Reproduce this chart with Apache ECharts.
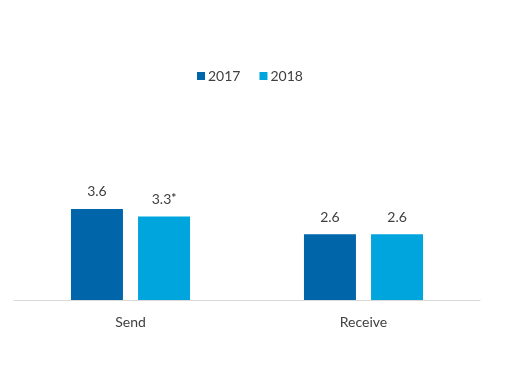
<!DOCTYPE html>
<html><head><meta charset="utf-8">
<script src="https://cdn.jsdelivr.net/npm/echarts@6/dist/echarts.min.js"></script>
<style>html,body{margin:0;padding:0;background:#fff}#c{width:509px;height:365px}</style>
</head><body><div id="c"></div>
<script>
const categories = ['Send', 'Receive'];
const seriesNames = ['2017', '2018'];
const values2017 = [3.6, 2.6];
const values2018 = [3.3, 2.6];
const labels2018 = ['{n|3.3}{s|*}', '{n|2.6}'];
const colors = ['#0065a9', '#00a5dd'];

const chart = echarts.init(document.getElementById('c'));
const font = 'Lato';
const txt = '#404040';
chart.setOption({
  animation: false,
  legend: {
    data: seriesNames, top: 64, left: 192,
    itemWidth: 8, itemHeight: 8, itemGap: 19,
    icon: 'rect',
    textStyle: { fontFamily: font, fontSize: 14, color: txt, padding: [0, 0, 0, -2] }
  },
  grid: { left: 14, right: 29, top: 198.8, bottom: 65 },
  xAxis: {
    type: 'category', data: categories,
    axisLine: { lineStyle: { color: '#d9d9d9', width: 1 } },
    axisTick: { show: false },
    axisLabel: { fontFamily: font, fontSize: 14, color: txt, margin: 15 }
  },
  yAxis: { type: 'value', min: 0, max: 4, show: false, splitLine: { show: false } },
  series: [
    {
      name: '2017', type: 'bar', data: values2017, barWidth: 52, barGap: '29%',
      itemStyle: { color: colors[0] },
      label: { show: true, position: 'top', distance: 10, fontFamily: font, fontSize: 14, color: txt }
    },
    {
      name: '2018', type: 'bar', data: values2018, barWidth: 52,
      itemStyle: { color: colors[1] },
      label: {
        show: true, position: 'top', distance: 10, fontFamily: font, fontSize: 14, color: txt,
        formatter: p => labels2018[p.dataIndex],
        rich: {
          n: { fontFamily: font, fontSize: 14, color: txt },
          s: { fontFamily: font, fontSize: 12, fontWeight: 'bold', color: txt, verticalAlign: 'top', lineHeight: 14 }
        }
      }
    }
  ]
});
</script></body></html>
